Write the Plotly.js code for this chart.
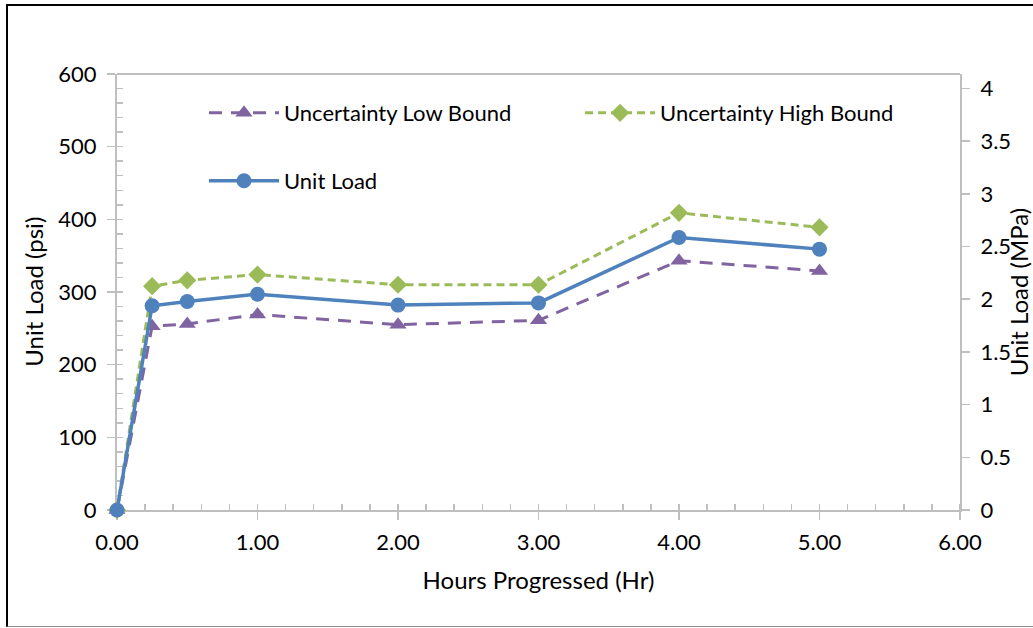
<!DOCTYPE html>
<html>
<head>
<meta charset="utf-8">
<script src="https://cdn.plot.ly/plotly-3.0.1.min.js"></script>
<style>
  html, body { margin: 0; padding: 0; background: #fff; overflow: hidden; }
  #chart { position: absolute; left: 0; top: 0; width: 1033px; height: 628px; }
  #frame {
    position: absolute; left: 6px; top: 4px; width: 1040px; height: 620px;
    border-left: 2px solid #000; border-top: 2px solid #000; border-bottom: 1px solid #8c8c8c;
    pointer-events: none;
  }
</style>
</head>
<body>
<div id="chart"></div>
<div id="frame"></div>
<script>
// Unit load measured over the test, with its uncertainty envelope (psi)
const hours     = [0, 0.25, 0.5, 1, 2, 3, 4, 5];
const unitLoad  = [0, 281, 287, 297, 282, 285, 375, 359];
const lowBound  = [0, 253, 256, 269, 255, 261, 343, 329];
const highBound = [0, 308, 316, 324, 310, 310, 409, 389];

const PSI_TO_MPA = 0.00689476;
const PSI_MAX = 600;

const FONT = 'Lato, "Open Sans", sans-serif';
const AXIS_GREY = '#BFBFBF';
const TICK_SIZE = 22;
const TITLE_SIZE = 24;
const LEGEND_SIZE = 22;

const traces = [
  {
    x: hours, y: lowBound, name: 'Uncertainty Low Bound', type: 'scatter', mode: 'lines+markers',
    line: { color: '#8064A2', width: 3, dash: '13px,9px' },
    marker: { symbol: 'triangle-up', size: 15, color: '#8064A2' },
    cliponaxis: false, legend: 'legend'
  },
  {
    x: hours, y: highBound, name: 'Uncertainty High Bound', type: 'scatter', mode: 'lines+markers',
    line: { color: '#9BBB59', width: 3, dash: '8px,5px' },
    marker: { symbol: 'diamond', size: 14, color: '#9BBB59' },
    cliponaxis: false, legend: 'legend2'
  },
  {
    x: hours, y: unitLoad, name: 'Unit Load', type: 'scatter', mode: 'lines+markers',
    line: { color: '#4F81BD', width: 3.5 },
    marker: { symbol: 'circle', size: 15, color: '#4F81BD' },
    cliponaxis: false, legend: 'legend3'
  },
  {
    // same series in MPa, carried on the secondary axis
    x: hours, y: unitLoad.map(v => v * PSI_TO_MPA), yaxis: 'y2', type: 'scatter', mode: 'lines',
    line: { color: 'rgba(0,0,0,0)', width: 0 }, showlegend: false, hoverinfo: 'skip'
  }
];

const tickCommon = {
  showgrid: false, zeroline: false, showline: true, layer: 'below traces',
  linecolor: AXIS_GREY, linewidth: 2,
  ticks: 'outside', ticklen: 8, tickwidth: 1.5, tickcolor: AXIS_GREY,
  tickfont: { family: FONT, size: TICK_SIZE, color: '#000' }
};

const legendCommon = {
  orientation: 'h', xanchor: 'left', yanchor: 'top', itemwidth: 70,
  bgcolor: 'rgba(0,0,0,0)', font: { family: FONT, size: LEGEND_SIZE, color: '#000' }
};

const layout = {
  width: 1033, height: 628,
  margin: { l: 117, r: 73, t: 74, b: 118, pad: 0 },
  paper_bgcolor: 'rgba(0,0,0,0)', plot_bgcolor: 'rgba(0,0,0,0)',
  font: { family: FONT, size: TICK_SIZE, color: '#000' },
  showlegend: true,
  xaxis: Object.assign({}, tickCommon, {
    range: [0, 6], tick0: 0, dtick: 1, tickformat: '.2f', ticklabelstandoff: 4,
    minor: { ticks: 'inside', dtick: 0.2, ticklen: 6, tickwidth: 1.5, tickcolor: AXIS_GREY, showgrid: false },
    title: { text: 'Hours Progressed (Hr)', font: { family: FONT, size: TITLE_SIZE, color: '#000' }, standoff: 18 }
  }),
  yaxis: Object.assign({}, tickCommon, {
    range: [0, PSI_MAX], tick0: 0, dtick: 100, ticklabelstandoff: 6,
    minor: { ticks: 'inside', dtick: 20, ticklen: 6, tickwidth: 1.5, tickcolor: AXIS_GREY, showgrid: false }
  }),
  yaxis2: Object.assign({}, tickCommon, {
    overlaying: 'y', side: 'right', anchor: 'x', ticklabelstandoff: 6,
    range: [0, PSI_MAX * PSI_TO_MPA], tick0: 0, dtick: 0.5
  }),
  legend:  Object.assign({}, legendCommon, { x: 0.1032, y: 0.9587 }),
  legend2: Object.assign({}, legendCommon, { x: 0.5493, y: 0.9587 }),
  legend3: Object.assign({}, legendCommon, { x: 0.1032, y: 0.8028 }),
  shapes: [
    { type: 'line', xref: 'paper', yref: 'paper', x0: 0, x1: 1, y0: 1, y1: 1, layer: 'below',
      line: { color: AXIS_GREY, width: 2 } }
  ],
  annotations: [
    { text: 'Unit Load (psi)', textangle: -90, xref: 'paper', yref: 'paper',
      x: -0.1, y: 0.5, xanchor: 'center', yanchor: 'middle', showarrow: false,
      font: { family: FONT, size: TITLE_SIZE, color: '#000' } },
    { text: 'Unit Load (MPa)', textangle: -90, xref: 'paper', yref: 'paper',
      x: 1.069, y: 0.5, xanchor: 'center', yanchor: 'middle', showarrow: false,
      font: { family: FONT, size: TITLE_SIZE, color: '#000' } }
  ]
};

Plotly.newPlot('chart', traces, layout, { displayModeBar: false, staticPlot: true });
</script>
</body>
</html>
